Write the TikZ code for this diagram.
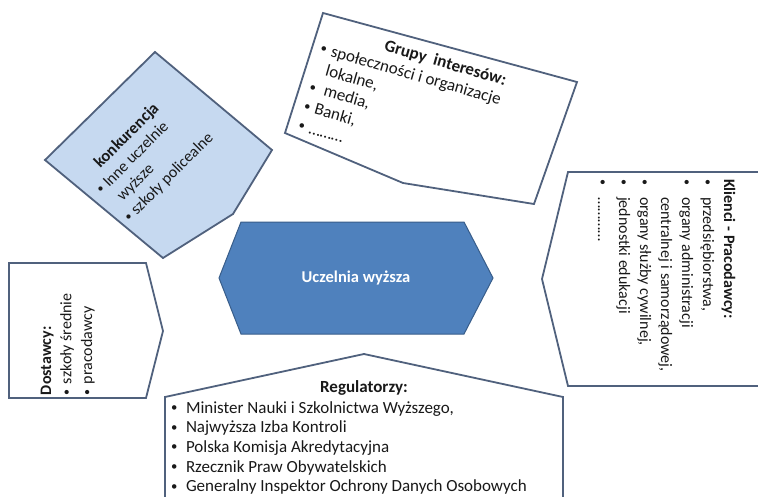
\documentclass[tikz,border=0pt]{standalone}
\usepackage{fontspec}
\usepackage{graphicx}
\setmainfont{Carlito}
\definecolor{edge}{RGB}{80,97,125}
\definecolor{hexfill}{RGB}{79,129,189}
\definecolor{hexedge}{RGB}{56,93,138}
\definecolor{konk}{RGB}{198,217,240}
\definecolor{txt}{RGB}{25,25,25}
\newcommand{\bul}{\raisebox{0.09em}{\scalebox{0.75}{•}}}
\tikzset{
  box/.style={draw=edge, line width=1.8pt, line join=miter},
  lbl/.style={inner sep=0pt, outer sep=0pt, text=txt, font=\fontsize{16}{19.7}\selectfont},
}
\begin{document}
\begin{tikzpicture}[x=1pt,y=-1pt]
\useasboundingbox (0,0) rectangle (758,496);
\fill[white] (0,0) rectangle (758,496);
% shapes
\draw[box, fill=konk] (155,52) -- (272,150) -- (233,214) -- (163,258) -- (45,160) -- cycle;
\draw[box, fill=white] (323,13) -- (577,82) -- (534,204) -- (403,183) -- (285,133) -- cycle;
\draw[box] (770,172) -- (568,172) -- (542,279) -- (568,386) -- (770,386);
\draw[box, fill=white] (9,263) -- (146,263) -- (163,331) -- (146,398) -- (9,398) -- cycle;
\draw[box] (165,500) -- (165,397) -- (364,354) -- (563,397) -- (563,500);
\draw[draw=hexedge, line width=1pt, fill=hexfill] (219,278) -- (241,222) -- (464,222) -- (493,278) -- (464,334) -- (241,334) -- cycle;
% texts
\node[font=\bfseries\fontsize{16.5}{19}\selectfont, text=white, inner sep=0pt] (center) at (356,278) {Uczelnia wyższa};
\node[lbl, rotate=45, anchor=base west] (konktext) at (88,181) {\begin{tabular}[t]{@{}p{10pt}@{}l@{}}\multicolumn{2}{@{}c@{}}{\fontsize{16.5}{19.7}\selectfont\textbf{konkurencja}}\\ \bul & Inne uczelnie\\ & wyższe\\ \bul & szkoły policealne\end{tabular}};
\node[lbl, font=\fontsize{17}{20}\selectfont, rotate=-16, anchor=base west] (grupytext) at (325,34) {\begin{tabular}[t]{@{}p{11pt}@{}l@{}}\multicolumn{2}{@{}l@{}}{\hspace{61pt}\textbf{Grupy\ \ interesów:}}\\ \bul & społeczności i organizacje\\ & lokalne,\\ \bul & \hspace{4pt}media,\\ \bul & Banki,\\ \bul & ………\end{tabular}};
\node[lbl, font=\fontsize{16}{21}\selectfont, rotate=-90, anchor=base west] (klitext) at (724,179) {\begin{tabular}[t]{@{}p{18pt}@{}l@{}}\multicolumn{2}{@{}l@{}}{\textbf{Klienci - Pracodawcy:}}\\ \bul & przedsiębiorstwa,\\ \bul & organy administracji\\ & centralnej i samorządowej,\\ \bul & organy służby cywilnej,\\ \bul & jednostki edukacji\\ \bul & …………\end{tabular}};
\node[lbl, font=\fontsize{16}{20.5}\selectfont, rotate=90, anchor=base west] (dostext) at (51,395) {\begin{tabular}[t]{@{}p{11pt}@{}l@{}}\multicolumn{2}{@{}l@{}}{\textbf{Dostawcy:}}\\ \bul & szkoły średnie\\ \bul & pracodawcy\end{tabular}};
\node[lbl, font=\fontsize{17}{19.7}\selectfont, anchor=base] (regtitle) at (364,392) {\textbf{Regulatorzy:}};
\node[lbl, font=\fontsize{17}{19.7}\selectfont, anchor=base west] (regtext) at (171,413) {\begin{tabular}[t]{@{}p{15pt}@{}l@{}}\bul & Minister Nauki i Szkolnictwa Wyższego,\\ \bul & Najwyższa Izba Kontroli\\ \bul & Polska Komisja Akredytacyjna\\ \bul & Rzecznik Praw Obywatelskich\\ \bul & Generalny Inspektor Ochrony Danych Osobowych\end{tabular}};
\end{tikzpicture}
\end{document}
